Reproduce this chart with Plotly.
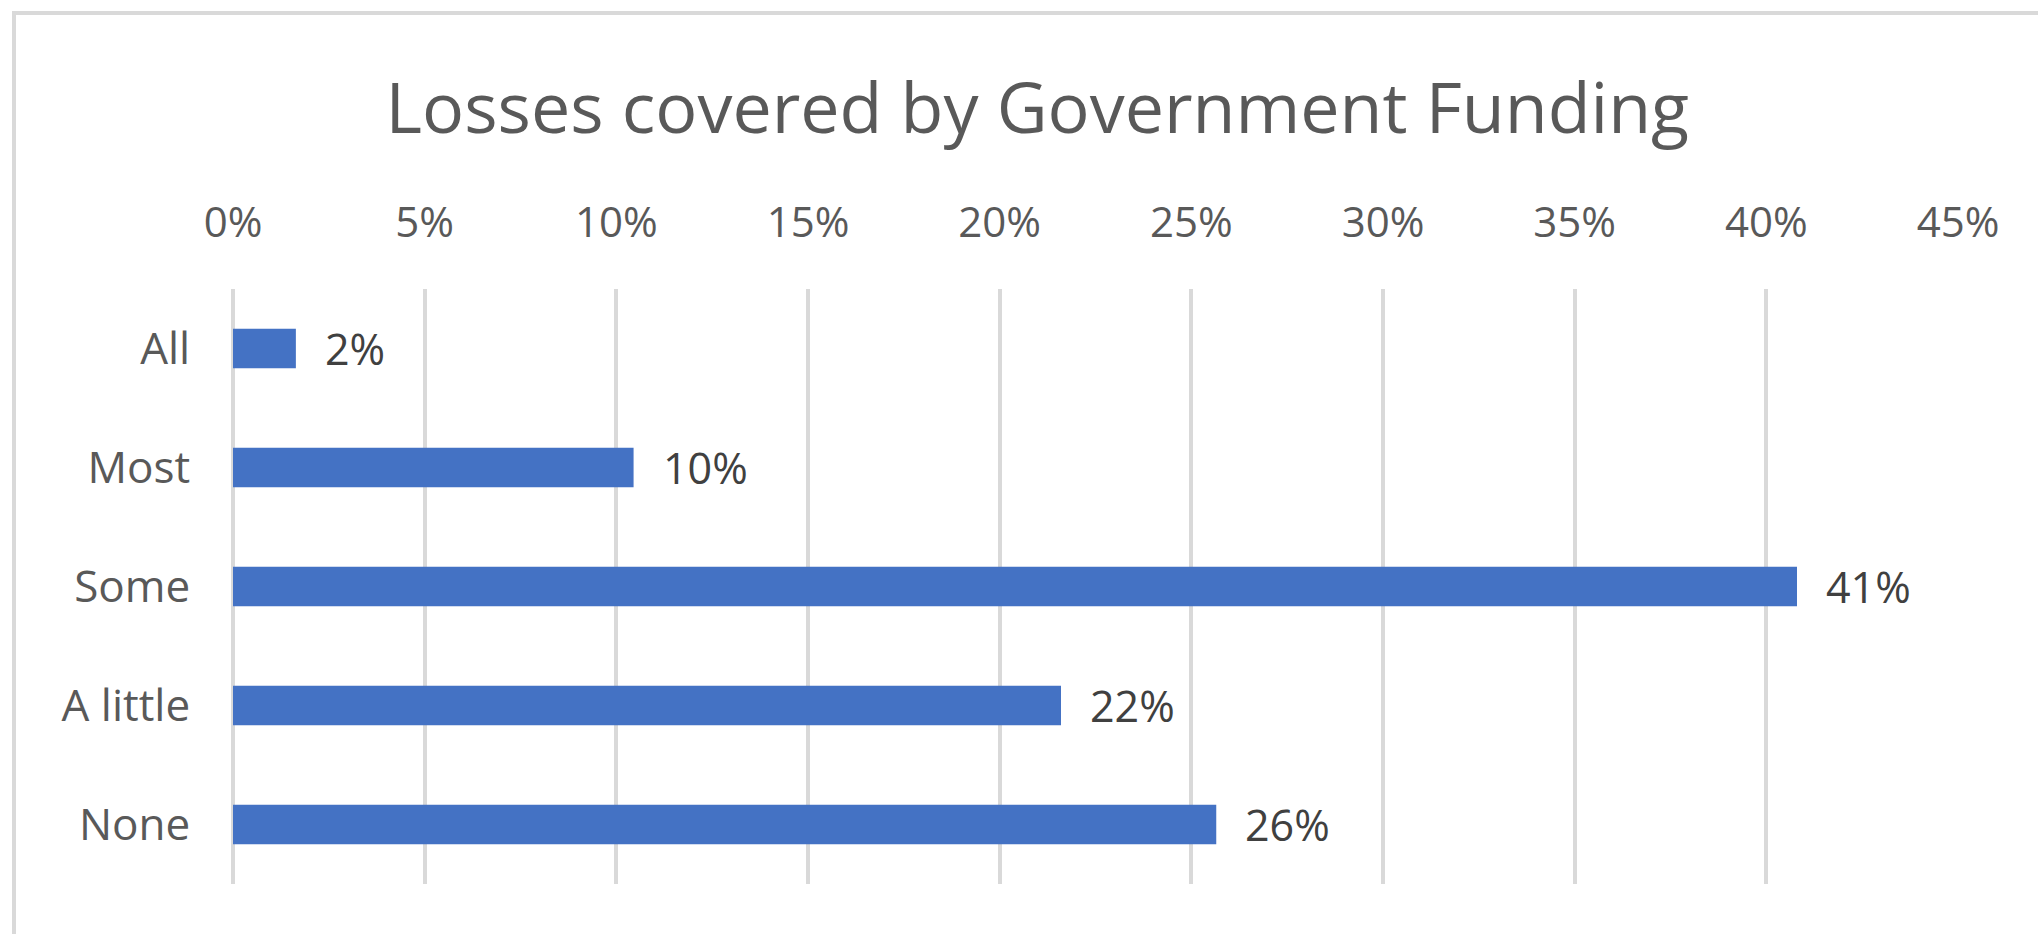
import plotly.graph_objects as go

categories = ["All", "Most", "Some", "A little", "None"]
values = [0.0164, 0.1045, 0.408, 0.216, 0.2565]
tick_vals = [0, 0.05, 0.10, 0.15, 0.20, 0.25, 0.30, 0.35, 0.40, 0.45]
tick_text = ["0%", "5%", "10%", "15%", "20%", "25%", "30%", "35%", "40%", "45%"]
title_text = "Losses covered by Government Funding"

FONT = "Open Sans"
W, H = 2038, 934
L, R, T, B = 233, 80, 289, 50

fig = go.Figure()
fig.add_trace(go.Bar(
    x=values, y=categories, orientation="h",
    marker=dict(color="#4472C4", line=dict(width=0)),
    width=0.33, hoverinfo="skip",
))

annotations = []
for c, v in zip(categories, values):
    annotations.append(dict(
        x=v, y=c, xref="x", yref="y", text=f"{round(v*100):.0f}%",
        showarrow=False, xanchor="left", yanchor="middle", xshift=27,
        font=dict(family=FONT, size=43, color="#404040"),
    ))

fig.update_layout(
    width=W, height=H,
    margin=dict(l=L, r=R, t=T, b=B, pad=0),
    paper_bgcolor="white", plot_bgcolor="white",
    showlegend=False,
    title=dict(text=title_text, x=0.509, xref="container", xanchor="center",
               y=1 - 108 / H, yref="container", yanchor="middle",
               font=dict(family=FONT, size=70, color="#595959")),
    xaxis=dict(range=[0, 0.45], side="top", tickvals=tick_vals, ticktext=tick_text,
               showgrid=True, gridcolor="#d9d9d9", gridwidth=4,
               zeroline=True, zerolinecolor="#d9d9d9", zerolinewidth=4,
               showline=False,
               ticks="outside", ticklen=34, tickcolor="rgba(0,0,0,0)",
               tickfont=dict(family=FONT, size=42, color="#595959"),
               fixedrange=True),
    yaxis=dict(categoryorder="array", categoryarray=categories, autorange="reversed",
               showgrid=False, zeroline=False, showline=False,
               ticks="outside", ticklen=33, tickcolor="rgba(0,0,0,0)",
               tickfont=dict(family=FONT, size=44, color="#595959"),
               fixedrange=True),
    annotations=annotations,
    shapes=[dict(type="rect", xref="paper", yref="paper",
                 x0=(14 - L) / (W - L - R), x1=(W + 10 - L) / (W - L - R),
                 y0=(H - B - (H + 10)) / (H - T - B), y1=(H - B - 13) / (H - T - B),
                 line=dict(color="#d9d9d9", width=4), fillcolor="rgba(0,0,0,0)",
                 layer="below")],
)

fig.write_html("out.html", config={"displayModeBar": False},
               post_script="document.body.style.margin='0';document.body.style.overflow='hidden';")
